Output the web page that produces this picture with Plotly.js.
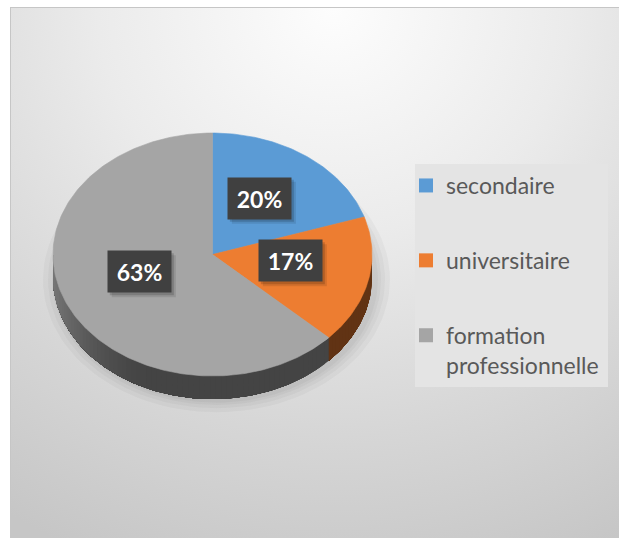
<!DOCTYPE html>
<html><head><meta charset="utf-8">
<script src="https://cdn.plot.ly/plotly-3.0.1.min.js"></script>
<style>
body{margin:0;background:#fff;overflow:hidden;}
#bg{position:absolute;left:10px;top:7px;width:620px;height:540px;border-left:1px solid #c6c6c6;border-top:1px solid #c6c6c6;
background:radial-gradient(ellipse 100% 110% at 52% 0%, #fdfdfd 0%, #ebebeb 38%, #d6d6d6 72%, #c6c6c6 100%);}
#chart{position:absolute;left:0;top:0;width:619px;height:538px;}
</style></head><body><div id="bg"></div><div id="chart"></div>
<script>
// ---- data ----
const categories = ['secondaire', 'universitaire', 'formation professionnelle'];
const legendLabels = ['secondaire', 'universitaire', 'formation<br>professionnelle'];
const values = [20, 17, 63];
const colors = ['#5b9bd5', '#ed7d31', '#a5a5a5'];
const sideRGB = [[91,155,213],[237,125,49],[165,165,165]];

// ---- geometry (layout) ----
const W = 619, H = 538;
const cx = 212.5, cy = 254.5, rx = 159.5, ry = 121.5, depth = 23;
const total = values.reduce((s, v) => s + v, 0);
const fr = values.map(v => v / total);
const cum = [0]; fr.forEach(f => cum.push(cum[cum.length - 1] + f));
const DEG = Math.PI / 180;

function pt(t, dy, s) { s = s || 1; dy = dy || 0; return [cx + rx * s * Math.sin(t), cy - ry * s * Math.cos(t) + dy]; }
function arc(t0, t1, dy, s) {
  const n = Math.max(2, Math.ceil(Math.abs(t1 - t0) / DEG));
  const xs = [], ys = [];
  for (let k = 0; k <= n; k++) { const p = pt(t0 + (t1 - t0) * k / n, dy, s); xs.push(p[0]); ys.push(p[1]); }
  return [xs, ys];
}
const traces = [];
// soft shadow
[14, 9, 5, 2].forEach(k => {
  const xs = [], ys = [];
  for (let d = 0; d <= 360; d += 3) {
    xs.push(cx + 4 + (rx + k) * Math.sin(d * DEG));
    ys.push(cy + depth + 2 - (ry + k * 0.8) * Math.cos(d * DEG));
  }
  traces.push({type: 'scatter', mode: 'lines', x: xs, y: ys, fill: 'toself', fillcolor: 'rgba(0,0,0,0.03)',
    line: {width: 0}, hoverinfo: 'skip', showlegend: false});
});
// side walls: layered polygons, each covering from its start to the slice's far end
function shade(t) {
  const u = Math.min(1, Math.max(0, (t / DEG - 200) / 70));
  const sm = u * u * (3 - 2 * u);
  return 0.41 + 0.31 * sm;
}
for (let i = 0; i < values.length; i++) {
  const t0 = Math.max(2 * Math.PI * cum[i], Math.PI / 2);
  const t1 = Math.min(2 * Math.PI * cum[i + 1], 3 * Math.PI / 2);
  if (t1 <= t0) continue;
  const n = Math.max(1, Math.ceil((t1 - t0) / (2 * DEG)));
  for (let k = 0; k < n; k++) {
    const a = t0 + (t1 - t0) * k / n;
    const top = arc(a, t1, 0), bot = arc(t1, a, depth);
    const f = shade(a + (t1 - t0) / (2 * n));
    const c = sideRGB[i].map(v => Math.round(v * f));
    const col = 'rgb(' + c.join(',') + ')';
    traces.push({type: 'scatter', mode: 'lines', x: top[0].concat(bot[0]), y: top[1].concat(bot[1]),
      fill: 'toself', fillcolor: col, line: {width: 0}, hoverinfo: 'skip', showlegend: false});
  }
}
// top surface slices
for (let i = 0; i < values.length; i++) {
  const a = arc(2 * Math.PI * cum[i], 2 * Math.PI * cum[i + 1], 0);
  traces.push({type: 'scatter', mode: 'lines', x: [cx].concat(a[0], [cx]), y: [cy].concat(a[1], [cy]),
    fill: 'toself', fillcolor: colors[i], line: {width: 0.6, color: colors[i]},
    hoverinfo: 'skip', showlegend: false, name: categories[i]});
}
// legend entries
for (let i = 0; i < values.length; i++) {
  traces.push({type: 'scatter', mode: 'markers', x: [null], y: [null], name: legendLabels[i],
    legendgroup: 'g' + i, marker: {symbol: 'square', size: 14, color: colors[i]}, hoverinfo: 'skip'});
}
// data labels
const annotations = [];
const shapes = [{type: 'rect', xref: 'x', yref: 'y', x0: 415, x1: 608, y0: 164, y1: 387,
    fillcolor: '#e4e4e4', line: {width: 0}, layer: 'below'}];
const BW = 63, BH = 41;
for (let i = 0; i < values.length; i++) {
  const tm = 2 * Math.PI * (cum[i] + cum[i + 1]) / 2;
  const p = pt(tm, -7, 0.5);
  const txt = Math.round(fr[i] * 100) + '%';
  [[5, 0.10], [3, 0.16]].forEach(([o, al]) => {
    shapes.push({type: 'rect', xref: 'x', yref: 'y', x0: p[0] - BW / 2 + o - 1, x1: p[0] + BW / 2 + o,
      y0: p[1] - BH / 2 + o - 1, y1: p[1] + BH / 2 + o, fillcolor: 'rgba(0,0,0,' + al + ')', line: {width: 0}, layer: 'above'});
  });
  annotations.push({x: p[0], y: p[1], xref: 'x', yref: 'y', text: txt, showarrow: false,
    width: BW, height: BH, borderpad: 0, bgcolor: '#404040',
    font: {family: 'Lato', size: 23, color: '#ffffff', weight: 700}});
}
const layout = {
  width: W, height: H, margin: {l: 0, r: 0, t: 0, b: 0},
  paper_bgcolor: 'rgba(0,0,0,0)', plot_bgcolor: 'rgba(0,0,0,0)',
  xaxis: {range: [0, W], visible: false, fixedrange: true},
  yaxis: {range: [H, 0], visible: false, fixedrange: true},
  showlegend: true,
  legend: {x: 406 / W, xanchor: 'left', y: 1 - 164 / H, yanchor: 'top', bgcolor: 'rgba(0,0,0,0)',
    font: {family: 'Lato', size: 23, color: '#595959'}, tracegroupgap: 42, valign: 'top',
    traceorder: 'grouped', itemclick: false, itemdoubleclick: false},
  shapes: shapes,
  annotations: annotations
};
Plotly.newPlot('chart', traces, layout, {staticPlot: true, displayModeBar: false});
</script></body></html>
